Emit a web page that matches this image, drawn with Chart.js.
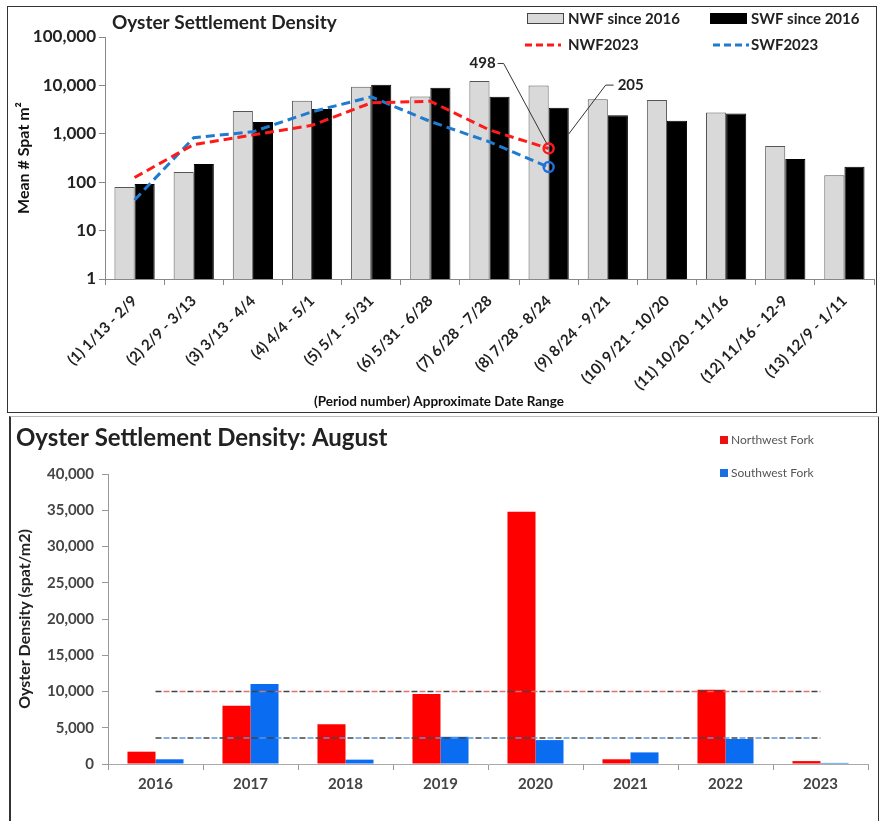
<!DOCTYPE html>
<html>
<head>
<meta charset="utf-8">
<script src="https://cdn.jsdelivr.net/npm/chart.js@4.4.0/dist/chart.umd.min.js"></script>
<style>
    body { margin: 0; background: #fff; width: 879px; height: 821px; overflow: hidden; position: relative; }
    #topbox { position: absolute; left: 7px; top: 6px; width: 868px; height: 405px; border: 1px solid #333; }
    #botbox { position: absolute; left: 9px; top: 416px; width: 867px; height: 410px;
              border-left: 2px solid #333; border-right: 2px solid #333; border-top: 1px solid #bbb; }
    .wrap { position: relative; width: 100%; height: 100%; }
</style>
</head>
<body>
<div id="topbox"><div class="wrap"><canvas id="topChart"></canvas></div></div>
<div id="botbox"><div class="wrap" style="height:404px"><canvas id="botChart"></canvas></div></div>
<script>
// ---- top chart data (log scale) ----
const periods = ['(1) 1/13 - 2/9', '(2) 2/9 - 3/13', '(3) 3/13 - 4/4', '(4) 4/4 - 5/1', '(5) 5/1 - 5/31',
    '(6) 5/31 - 6/28', '(7) 6/28 - 7/28', '(8) 7/28 - 8/24', '(9) 8/24 - 9/21', '(10) 9/21 - 10/20',
    '(11) 10/20 - 11/16', '(12) 11/16 - 12-9', '(13) 12/9 - 1/11'];
const nwfSince2016 = [80, 163, 2960, 4800, 9400, 5900, 12300, 10000, 5200, 5000, 2770, 560, 139];
const swfSince2016 = [92, 237, 1750, 3240, 10300, 8950, 5800, 3470, 2410, 1870, 2620, 300, 209];
const nwf2023 = [125, 600, 950, 1500, 4350, 4700, 1200, 498, null, null, null, null, null];
const swf2023 = [43, 830, 1100, 2850, 5800, 1800, 680, 205, null, null, null, null, null];
const logTicks = [1, 10, 100, 1000, 10000, 100000];

// ---- bottom chart data ----
const years = ['2016', '2017', '2018', '2019', '2020', '2021', '2022', '2023'];
const northwestFork = [1700, 8050, 5500, 9650, 34800, 650, 10250, 400];
const southwestFork = [650, 11050, 600, 3750, 3300, 1600, 3450, 150];
const nwfMean = [10000, 10000, 10000, 10000, 10000, 10000, 10000, 10000];
const swfMean = [3600, 3600, 3600, 3600, 3600, 3600, 3600, 3600];
const linearTicks = [0, 5000, 10000, 15000, 20000, 25000, 30000, 35000, 40000];

Chart.defaults.font.family = 'Lato, "Open Sans", sans-serif';
Chart.defaults.animation = false;

const lastIdx = nwf2023.findLastIndex(v => v !== null);

// titles, 2x2 legend and the two data labels with leader lines
const topDecor = {
    id: 'topDecor',
    afterDraw(chart) {
        const c = chart.ctx;
        c.save();
        c.fillStyle = '#222';
        c.textBaseline = 'middle';
        c.font = 'bold 19px Lato';
        c.fillText('Oyster Settlement Density', 104, 16);

        // x axis title, centred on the whole panel like the original
        c.font = 'bold 13.5px Lato';
        c.textAlign = 'center';
        c.fillStyle = '#111';
        c.fillText('(Period number) Approximate Date Range', 431, 395);
        c.textAlign = 'left';

        // legend
        c.font = 'bold 15px Lato';
        c.fillStyle = '#d9d9d9'; c.fillRect(519, 6, 37, 11);
        c.strokeStyle = '#444'; c.lineWidth = 1; c.strokeRect(519.5, 6.5, 36, 10);
        c.fillStyle = '#000'; c.fillRect(702, 6, 37, 11);
        c.lineWidth = 3;
        c.setLineDash([7, 4]);
        c.strokeStyle = '#ff1a1a';
        c.beginPath(); c.moveTo(517, 38); c.lineTo(553, 38); c.stroke();
        c.strokeStyle = '#1f7ad0';
        c.beginPath(); c.moveTo(705, 38); c.lineTo(741, 38); c.stroke();
        c.setLineDash([]);
        c.fillStyle = '#222';
        c.fillText('NWF since 2016', 560, 12);
        c.fillText('SWF since 2016', 743, 12);
        c.fillText('NWF2023', 560, 38);
        c.fillText('SWF2023', 743, 38);

        // data labels
        const pr = chart.getDatasetMeta(2).data[lastIdx];
        const pb = chart.getDatasetMeta(3).data[lastIdx];
        c.strokeStyle = '#333'; c.lineWidth = 1;
        c.beginPath();
        c.moveTo(pr.x - 51, pr.y - 85); c.lineTo(pr.x - 45, pr.y - 85); c.lineTo(pr.x - 2, pr.y - 5);
        c.stroke();
        c.beginPath();
        c.moveTo(pb.x + 65, pb.y - 82); c.lineTo(pb.x + 57, pb.y - 82); c.lineTo(pb.x + 20, pb.y - 33);
        c.stroke();
        c.font = 'bold 15px Lato';
        c.textAlign = 'right';
        c.fillText(String(nwf2023[lastIdx]), pr.x - 53, pr.y - 85);
        c.textAlign = 'left';
        c.fillText(String(swf2023[lastIdx]), pb.x + 69, pb.y - 82);
        c.restore();
    }
};

new Chart(document.getElementById('topChart'), {
    type: 'bar',
    data: {
        labels: periods,
        datasets: [
            { label: 'NWF since 2016', data: nwfSince2016, backgroundColor: '#d9d9d9', borderColor: '#555',
              borderWidth: 1, order: 2, categoryPercentage: 0.68, barPercentage: 1.0 },
            { label: 'SWF since 2016', data: swfSince2016, backgroundColor: '#000', borderColor: '#000',
              borderWidth: 1, order: 2, categoryPercentage: 0.68, barPercentage: 1.0 },
            { type: 'line', label: 'NWF2023', data: nwf2023, borderColor: '#ff1a1a', borderWidth: 3,
              borderDash: [9, 5], order: 0,
              pointRadius: nwf2023.map((v, i) => i === lastIdx ? 5 : 0), pointBorderWidth: 2.5,
              pointBorderColor: '#ff1a1a', pointBackgroundColor: 'rgba(0,0,0,0)' },
            { type: 'line', label: 'SWF2023', data: swf2023, borderColor: '#1f7ad0', borderWidth: 3,
              borderDash: [9, 5], order: 1,
              pointRadius: swf2023.map((v, i) => i === lastIdx ? 5 : 0), pointBorderWidth: 2.5,
              pointBorderColor: '#1f6ee0', pointBackgroundColor: 'rgba(0,0,0,0)' }
        ]
    },
    options: {
        responsive: true,
        maintainAspectRatio: false,
        layout: { padding: { top: 30, right: 2, left: 0, bottom: 0 } },
        plugins: { legend: { display: false }, tooltip: { enabled: false } },
        scales: {
            x: {
                afterFit: s => { s.height = 133; },
                ticks: { minRotation: 45, maxRotation: 45, autoSkip: false, color: '#222', padding: 7,
                         font: { size: 15, weight: 'bold' } },
                grid: { drawOnChartArea: false, tickLength: 6, color: '#888', offset: true },
                border: { color: '#888' }
            },
            y: {
                type: 'logarithmic',
                min: 1,
                max: 100000,
                afterBuildTicks: s => { s.ticks = logTicks.map(v => ({ value: v })); },
                afterFit: s => { s.width = 97; },
                ticks: { callback: v => Number(v).toLocaleString('en-US'), color: '#222', padding: 3,
                         font: { size: 17, weight: 'bold' } },
                grid: { drawOnChartArea: false, tickLength: 6, color: '#888' },
                border: { color: '#888' },
                title: { display: true, text: 'Mean # Spat m²', color: '#111',
                         font: { size: 16, weight: 'bold' }, padding: { top: 6, bottom: 0 } }
            }
        }
    },
    plugins: [topDecor]
});

// ---- bottom chart ----
const botDecor = {
    id: 'botDecor',
    afterDraw(chart) {
        const c = chart.ctx;
        c.save();
        c.textBaseline = 'middle';
        c.fillStyle = '#222';
        c.font = 'bold 24px Lato';
        c.fillText('Oyster Settlement Density: August', 5, 21);
        c.font = '12px Lato';
        c.fillStyle = '#ee1111'; c.fillRect(709, 19, 8, 8);
        c.fillStyle = '#1a6fe0'; c.fillRect(709, 52, 8, 8);
        c.fillStyle = '#555';
        c.fillText('Northwest Fork', 720, 23);
        c.fillText('Southwest Fork', 720, 56);
        c.restore();
    }
};

const meanLine = (data, color, offset) => ({
    type: 'line', data: data, borderColor: color, borderWidth: 1.5, borderDash: [6, 10],
    borderDashOffset: offset, pointRadius: 0, order: 0
});

new Chart(document.getElementById('botChart'), {
    type: 'bar',
    data: {
        labels: years,
        datasets: [
            { label: 'Northwest Fork', data: northwestFork, backgroundColor: '#ff0000', order: 1,
              categoryPercentage: 0.59, barPercentage: 1.0 },
            { label: 'Southwest Fork', data: southwestFork, backgroundColor: '#0a6cf0', order: 1,
              categoryPercentage: 0.59, barPercentage: 1.0 },
            meanLine(nwfMean, '#444', 0),
            meanLine(nwfMean, '#e07070', 8),
            meanLine(swfMean, '#444', 0),
            meanLine(swfMean, '#5a9ad8', 8)
        ]
    },
    options: {
        responsive: true,
        maintainAspectRatio: false,
        layout: { padding: { top: 57, right: 10, left: 0, bottom: 0 } },
        plugins: { legend: { display: false }, tooltip: { enabled: false } },
        scales: {
            x: {
                afterFit: s => { s.height = 57; },
                ticks: { color: '#444', padding: 5, font: { size: 15, weight: 'bold' } },
                grid: { drawOnChartArea: false, tickLength: 6, color: '#999', offset: true },
                border: { color: '#aaa' }
            },
            y: {
                min: 0,
                max: 40000,
                afterBuildTicks: s => { s.ticks = linearTicks.map(v => ({ value: v })); },
                afterFit: s => { s.width = 97; },
                ticks: { callback: v => Number(v).toLocaleString('en-US'), color: '#444', padding: 8,
                         font: { size: 15, weight: 'bold' } },
                grid: { drawOnChartArea: false, tickLength: 6, color: '#999' },
                border: { color: '#999' },
                title: { display: true, text: 'Oyster Density (spat/m2)', color: '#222',
                         font: { size: 16, weight: 'bold' }, padding: { top: 4, bottom: 0 } }
            }
        }
    },
    plugins: [botDecor]
});
</script>
</body>
</html>
